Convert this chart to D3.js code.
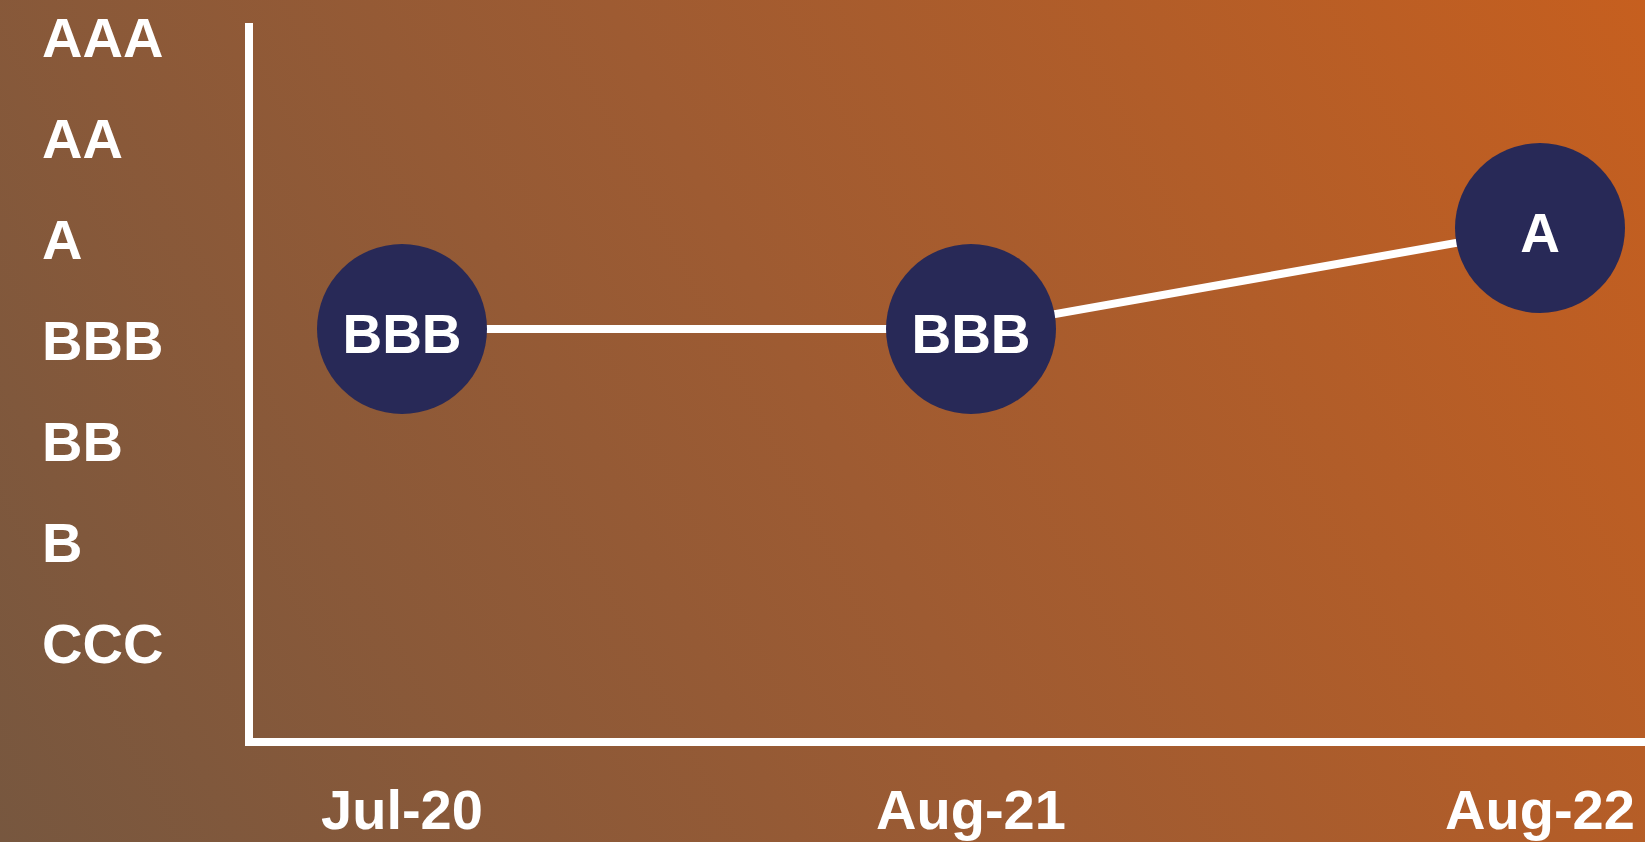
<!DOCTYPE html>
<html>
<head>
<meta charset="utf-8">
<script src="https://cdn.jsdelivr.net/npm/d3@7"></script>
<style>
  html, body { margin: 0; padding: 0; overflow: hidden; }
  svg { display: block; }
</style>
</head>
<body>
<div id="chart-area"></div>
<script>
const ratings = ["AAA", "AA", "A", "BBB", "BB", "B", "CCC"];
const dates = ["Jul-20", "Aug-21", "Aug-22"];
const dateRatings = ["BBB", "BBB", "A"];

const svgWidth = 1645;
const svgHeight = 842;

const svg = d3.select("#chart-area")
    .append("svg")
    .attr("width", svgWidth)
    .attr("height", svgHeight);

// background gradient, brown bottom-left to orange top-right
const grad = svg.append("defs")
    .append("linearGradient")
    .attr("id", "bg-gradient")
    .attr("gradientUnits", "userSpaceOnUse")
    .attr("x1", 0).attr("y1", svgHeight)
    .attr("x2", svgWidth).attr("y2", 0);

grad.selectAll("stop")
    .data([
        { offset: "0%", color: "#77573f" },
        { offset: "50%", color: "#9e5b32" },
        { offset: "100%", color: "#c65f1f" }
    ])
    .enter()
    .append("stop")
    .attr("offset", d => d.offset)
    .attr("stop-color", d => d.color);

svg.append("rect")
    .attr("width", svgWidth)
    .attr("height", svgHeight)
    .attr("fill", "url(#bg-gradient)");

const xScale = d3.scalePoint()
    .domain(dates)
    .range([402, 1540]);

const yScale = d3.scalePoint()
    .domain(ratings)
    .range([37, 643]);

const circleOffset = -11;
const font = "'Liberation Sans', Arial, sans-serif";

// axes
const axisLeft = 249, axisBottom = 742, axisTop = 23;

svg.append("line")
    .attr("x1", axisLeft).attr("y1", axisTop)
    .attr("x2", axisLeft).attr("y2", axisBottom + 4)
    .attr("stroke", "#fff")
    .attr("stroke-width", 8);

svg.append("line")
    .attr("x1", axisLeft - 4).attr("y1", axisBottom)
    .attr("x2", svgWidth).attr("y2", axisBottom)
    .attr("stroke", "#fff")
    .attr("stroke-width", 8);

// y labels
svg.append("g")
    .selectAll("text")
    .data(ratings)
    .join("text")
    .attr("x", 42)
    .attr("y", d => yScale(d) + 20)
    .attr("fill", "#fff")
    .style("font-family", font)
    .style("font-size", "56px")
    .style("font-weight", "bold")
    .text(d => d);

// x labels
svg.append("g")
    .selectAll("text")
    .data(dates)
    .join("text")
    .attr("x", d => xScale(d))
    .attr("y", 829)
    .attr("text-anchor", "middle")
    .attr("fill", "#fff")
    .style("font-family", font)
    .style("font-size", "56px")
    .style("font-weight", "bold")
    .text(d => d);

const points = dates.map((d, i) => ({ date: d, rating: dateRatings[i] }));

const line = d3.line()
    .x(d => xScale(d.date))
    .y(d => yScale(d.rating) + circleOffset);

svg.append("path")
    .datum(points)
    .attr("fill", "none")
    .attr("stroke", "#fff")
    .attr("stroke-width", 8)
    .attr("d", line);

const nodes = svg.append("g")
    .selectAll("g")
    .data(points)
    .join("g")
    .attr("transform", d => `translate(${xScale(d.date)},${yScale(d.rating) + circleOffset})`);

nodes.append("circle")
    .attr("r", 85)
    .attr("fill", "#282957");

nodes.append("text")
    .attr("y", 24)
    .attr("text-anchor", "middle")
    .attr("fill", "#fff")
    .style("font-family", font)
    .style("font-size", "55px")
    .style("font-weight", "bold")
    .text(d => d.rating);
</script>
</body>
</html>
